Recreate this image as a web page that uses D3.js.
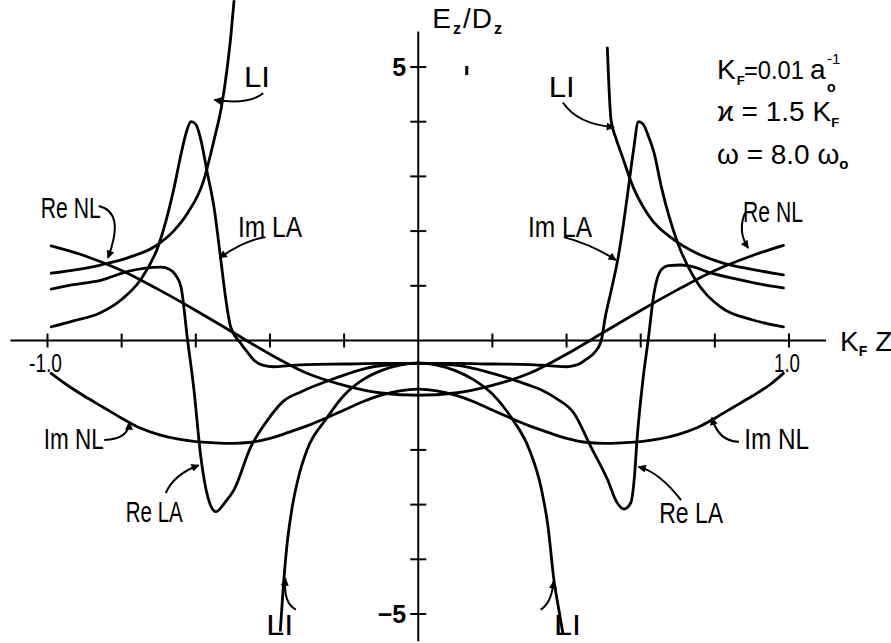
<!DOCTYPE html>
<html><head><meta charset="utf-8">
<script src="https://cdn.jsdelivr.net/npm/d3@7/dist/d3.min.js"></script>
<style>body{margin:0;background:#fff}svg{display:block;background:#fff}</style>
</head><body><svg id="c" width="891" height="643"></svg>
<script>
// ---- data ----
const xTicks = [-1.0,-0.8,-0.6,-0.4,-0.2,0.2,0.4,0.6,0.8,1.0];
const xTickLabels = ["-1.0","","","","","","","","","1.0"];
const yTicks = [-5,-4,-3,-2,-1,1,2,3,4,5];
const yTickLabels = ["\u22125","","","","","","","","","5"];

// Re NL
const reNL_x = [-0.99,-0.9,-0.8,-0.7,-0.6,-0.5,-0.4,-0.3,-0.2,-0.1,0,0.1,0.2,0.3,0.4,0.5,0.6,0.7,0.8,0.9,0.985];
const reNL_y = [1.73,1.55,1.28,0.93,0.55,0.15,-0.25,-0.6,-0.82,-0.96,-1.0,-0.96,-0.82,-0.6,-0.25,0.15,0.55,0.93,1.28,1.55,1.74];
// Im NL
const imNL_x = [-0.99,-0.95,-0.9,-0.85,-0.8,-0.75,-0.7,-0.65,-0.6,-0.55,-0.5,-0.45,-0.4,-0.35,-0.3,-0.25,-0.2,-0.15,-0.1,-0.05,0,0.05,0.1,0.15,0.2,0.25,0.3,0.35,0.4,0.45,0.5,0.55,0.6,0.65,0.7,0.75,0.8,0.85,0.9,0.95,0.985];
const imNL_y = [-0.6,-0.8,-1.02,-1.22,-1.42,-1.6,-1.72,-1.8,-1.85,-1.87,-1.88,-1.86,-1.79,-1.68,-1.56,-1.42,-1.27,-1.12,-1.0,-0.92,-0.89,-0.92,-1.0,-1.12,-1.27,-1.42,-1.56,-1.68,-1.79,-1.86,-1.88,-1.87,-1.85,-1.8,-1.72,-1.6,-1.42,-1.22,-1.02,-0.8,-0.6];
// LI (upper branches and lower branch)
const liUL_x = [-0.99,-0.857,-0.78,-0.713,-0.66,-0.622,-0.58,-0.551,-0.53,-0.515,-0.505,-0.497];
const liUL_y = [1.23,1.38,1.52,1.71,2.0,2.33,2.9,3.66,4.3,5.0,5.6,6.2];
const liUR_x = [0.51,0.52,0.533,0.547,0.58,0.62,0.69,0.75,0.82,0.9,0.985];
const liUR_y = [5.35,4.03,3.7,3.43,2.8,2.3,1.84,1.6,1.42,1.3,1.2];
const liL_x = [-0.372,-0.365,-0.355,-0.34,-0.32,-0.3,-0.25,-0.2,-0.15,-0.1,-0.05,0,0.05,0.1,0.15,0.2,0.25,0.3,0.331,0.35,0.366,0.38,0.39];
const liL_y = [-5.3,-4.6,-3.8,-3.05,-2.42,-2.0,-1.45,-1.0,-0.72,-0.55,-0.45,-0.41,-0.45,-0.55,-0.72,-0.98,-1.4,-2.0,-2.68,-3.4,-4.38,-4.95,-5.35];
// Re LA
const reLA_x = [-0.99,-0.93,-0.857,-0.78,-0.74,-0.694,-0.67,-0.655,-0.64,-0.622,-0.605,-0.587,-0.568,-0.546,-0.52,-0.497,-0.452,-0.406,-0.362,-0.317,-0.228,-0.136,-0.05,0,0.1,0.2,0.3,0.331,0.37,0.42,0.466,0.511,0.535,0.555,0.573,0.583,0.59,0.606,0.62,0.636,0.655,0.675,0.709,0.74,0.782,0.86,0.93,0.985];
const reLA_y = [0.94,1.02,1.1,1.27,1.32,1.34,1.3,1.2,0.98,0.0,-0.9,-2.1,-2.85,-3.13,-2.95,-2.73,-1.95,-1.45,-1.1,-0.94,-0.7,-0.5,-0.43,-0.42,-0.45,-0.6,-0.82,-0.9,-1.05,-1.33,-1.95,-2.55,-2.95,-3.08,-2.97,-2.5,-1.82,-0.72,0.0,0.87,1.29,1.37,1.38,1.35,1.25,1.12,1.02,0.96];
// Im LA
const imLA_x = [-0.99,-0.93,-0.86,-0.8,-0.75,-0.7,-0.66,-0.64,-0.625,-0.613,-0.6,-0.586,-0.57,-0.551,-0.533,-0.52,-0.506,-0.479,-0.46,-0.443,-0.42,-0.389,-0.35,-0.3,-0.2,-0.1,0,0.1,0.2,0.3,0.35,0.403,0.42,0.439,0.456,0.474,0.493,0.505,0.52,0.54,0.555,0.568,0.58,0.594,0.607,0.62,0.636,0.656,0.7,0.743,0.816,0.9,0.985];
const imLA_y = [0.25,0.36,0.5,0.75,1.1,1.75,2.75,3.4,3.82,4.0,3.95,3.66,3.1,2.44,1.5,0.8,0.25,-0.05,-0.22,-0.36,-0.45,-0.48,-0.46,-0.44,-0.43,-0.42,-0.42,-0.42,-0.43,-0.44,-0.46,-0.48,-0.46,-0.41,-0.33,-0.23,-0.02,0.45,0.9,1.55,2.2,2.85,3.45,4.0,3.95,3.75,3.43,2.8,1.78,1.16,0.61,0.38,0.25];

// annotation labels: text, x, baseline y (data units), width(px)
const labelText = ["LI","Re NL","Im LA","Im NL","Re LA","LI","LI","Im LA","Re NL","Im NL","Re LA","LI"];
const labelX    = [-0.47,-1.018,-0.486,-1.01,-0.789,-0.410,0.352,0.296,0.876,0.879,0.650,0.366];
const labelY    = [4.63,2.24,1.89,-1.99,-3.32,-5.39,4.45,1.89,2.16,-1.99,-3.34,-5.39];
const labelW    = [26,60,64,60,57,27,26,64,60,65,64,27];
// arrows: start, control, end (data units)
const arrowSX = [-0.418,-0.862,-0.412,-0.847,-0.681,-0.33,0.39,0.393,0.882,0.865,0.709,0.33];
const arrowSY = [4.52,2.46,1.89,-1.82,-2.79,-4.92,4.35,1.89,2.34,-1.85,-2.92,-4.92];
const arrowCX = [-0.46,-0.79,-0.47,-0.78,-0.66,-0.365,0.43,0.47,0.86,0.81,0.65,0.36];
const arrowCY = [4.3,2.35,1.83,-1.8,-2.45,-4.8,3.95,1.75,2.0,-1.85,-2.4,-4.8];
const arrowEX = [-0.55,-0.837,-0.536,-0.78,-0.592,-0.358,0.528,0.533,0.89,0.792,0.594,0.365];
const arrowEY = [4.4,1.51,1.51,-1.5,-2.28,-4.35,3.9,1.47,1.69,-1.41,-2.31,-4.4];

// ---- drawing ----
const svg = d3.select("#c");
const x = d3.scaleLinear().domain([-1,1]).range([47.5,789]);
const y = d3.scaleLinear().domain([-5,5]).range([614,67]);
const FONT = "'Liberation Sans', Arial, sans-serif";

svg.append("rect").attr("width",891).attr("height",643).attr("fill","#fff");

// axes
const ax = svg.append("g").attr("stroke","#000").attr("stroke-width",2);
ax.append("line").attr("x1",x(-1.1)).attr("x2",x(1.1)).attr("y1",y(0)).attr("y2",y(0));
ax.append("line").attr("x1",x(0)).attr("x2",x(0)).attr("y1",y(5.65)).attr("y2",y(-5.5));
ax.selectAll(".xt").data(xTicks).join("line").attr("class","xt")
  .attr("x1",d=>x(d)).attr("x2",d=>x(d)).attr("y1",y(0)-7).attr("y2",y(0)+7);
ax.selectAll(".yt").data(yTicks).join("line").attr("class","yt")
  .attr("x1",x(0)-8).attr("x2",x(0)+8).attr("y1",d=>y(d)).attr("y2",d=>y(d));

const tl = svg.append("g").attr("font-family",FONT).attr("fill","#000");
tl.selectAll(".xl").data(xTicks.map((d,i)=>({v:d,t:xTickLabels[i]})).filter(d=>d.t))
  .join("text").attr("class","xl").attr("x",d=>x(d.v)-2).attr("y",y(0)+31).attr("text-anchor","middle")
  .attr("font-size",25).attr("textLength",d=>d.v<0?33:26).attr("lengthAdjust","spacingAndGlyphs").text(d=>d.t);
tl.selectAll(".yl").data(yTicks.map((d,i)=>({v:d,t:yTickLabels[i]})).filter(d=>d.t))
  .join("text").attr("class","yl").attr("x",x(0)-12).attr("y",d=>y(d.v)+9).attr("text-anchor","end")
  .attr("font-size",25).attr("font-weight","bold").text(d=>d.t);

// curves
const line = d3.line().x(d=>x(d[0])).y(d=>y(d[1])).curve(d3.curveMonotoneX);
const series = [
  [reNL_x,reNL_y],[imNL_x,imNL_y],[liUL_x,liUL_y],[liUR_x,liUR_y],[liL_x,liL_y],
  [reLA_x,reLA_y],[imLA_x,imLA_y]
];
svg.append("g").selectAll("path").data(series.map(s=>s[0].map((v,i)=>[v,s[1][i]])))
  .join("path").attr("d",line).attr("fill","none").attr("stroke","#000")
  .attr("stroke-width",2.8).attr("stroke-linejoin","round").attr("stroke-linecap","round");

// arrows
svg.append("defs").append("marker").attr("id","ah").attr("viewBox","0 0 10 10")
  .attr("refX",9).attr("refY",5).attr("markerWidth",11).attr("markerHeight",8)
  .attr("markerUnits","userSpaceOnUse").attr("orient","auto")
  .append("path").attr("d","M0,0L10,5L0,10Z").attr("fill","#000");
svg.append("g").selectAll("path").data(arrowSX.map((d,i)=>i)).join("path")
  .attr("d",i=>`M${x(arrowSX[i])},${y(arrowSY[i])}Q${x(arrowCX[i])},${y(arrowCY[i])} ${x(arrowEX[i])},${y(arrowEY[i])}`)
  .attr("fill","none").attr("stroke","#000").attr("stroke-width",2).attr("marker-end","url(#ah)");

// labels
svg.append("g").attr("font-family",FONT).attr("fill","#000").attr("font-size",29)
  .selectAll("text").data(labelText.map((t,i)=>i)).join("text")
  .attr("x",i=>x(labelX[i])).attr("y",i=>y(labelY[i]))
  .attr("textLength",i=>labelW[i]).attr("lengthAdjust","spacingAndGlyphs")
  .text(i=>labelText[i]);

// axis titles
const yt = svg.append("text").attr("font-family",FONT).attr("font-size",28)
  .attr("x",x(0)+14).attr("y",28);
yt.append("tspan").text("E");
yt.append("tspan").attr("font-size",16).attr("font-weight","bold").attr("dy",6).attr("dx",2).text("z");
yt.append("tspan").attr("dy",-6).attr("dx",2).text("/");
yt.append("tspan").attr("dx",1).text("D");
yt.append("tspan").attr("font-size",16).attr("font-weight","bold").attr("dy",6).attr("dx",2).text("z");
svg.append("rect").attr("x",x(0)+47).attr("y",y(5)-1).attr("width",3).attr("height",9).attr("fill","#000");

const xt = svg.append("text").attr("font-family",FONT).attr("font-size",28)
  .attr("x",840).attr("y",y(0)+10);
xt.append("tspan").text("K");
xt.append("tspan").attr("font-size",14).attr("font-weight","bold").attr("dy",5).text("F");
xt.append("tspan").attr("dy",-5).attr("dx",8).text("Z");

// parameter block
const pb = svg.append("g").attr("font-family",FONT).attr("font-size",28).attr("fill","#000");
const l1 = pb.append("text").attr("x",717).attr("y",79);
l1.append("tspan").text("K");
l1.append("tspan").attr("font-size",13).attr("font-weight","bold").attr("dy",6).attr("dx",1).text("F");
pb.append("text").attr("x",744).attr("y",79).attr("font-size",25).attr("textLength",60).attr("lengthAdjust","spacingAndGlyphs").text("=0.01");
pb.append("text").attr("x",810).attr("y",79).text("a");
pb.append("text").attr("x",827).attr("y",64).attr("font-size",15).text("-1");
pb.append("text").attr("x",827).attr("y",92).attr("font-size",14).attr("font-weight","bold").text("o");
const l2 = pb.append("text").attr("x",717).attr("y",121);
l2.append("tspan").text("\u03f0 =  1.5  K");
l2.append("tspan").attr("font-size",13).attr("font-weight","bold").attr("dy",6).text("F");
const l3 = pb.append("text").attr("x",717).attr("y",164);
l3.append("tspan").text("\u03c9 =  8.0 \u03c9");
l3.append("tspan").attr("font-size",15).attr("font-weight","bold").attr("dy",5).text("o");
</script></body></html>
